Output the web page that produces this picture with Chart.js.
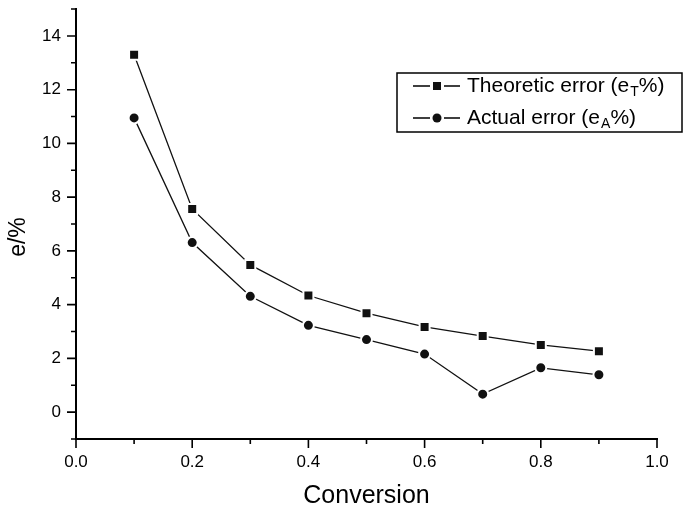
<!DOCTYPE html>
<html>
<head>
<meta charset="utf-8">
<script src="https://cdn.jsdelivr.net/npm/chart.js@4/dist/chart.umd.min.js"></script>
<style>
  html, body { margin: 0; padding: 0; background: #ffffff; }
  #wrap { width: 684px; height: 511px; }
</style>
</head>
<body>
<div id="wrap"><canvas id="c" width="684" height="511"></canvas></div>
<script>
// ---- data ----
const conversion = [0.1, 0.2, 0.3, 0.4, 0.5, 0.6, 0.7, 0.8, 0.9];
const theoreticError = [13.30, 7.56, 5.48, 4.34, 3.68, 3.17, 2.83, 2.50, 2.27];
const actualError = [10.95, 6.31, 4.31, 3.23, 2.70, 2.16, 0.67, 1.65, 1.39];
const xMajorTicks = [0.0, 0.2, 0.4, 0.6, 0.8, 1.0];
const xMinorTicks = [0.1, 0.3, 0.5, 0.7, 0.9];
const yMajorTicks = [0, 2, 4, 6, 8, 10, 12, 14];
const yMinorTicks = [-1, 1, 3, 5, 7, 9, 11, 13, 15];
const seriesNames = ['Theoretic error (eT%)', 'Actual error (eA%)'];
const legendMain = ['Theoretic error (e', 'Actual error (e'];
const legendSub = ['T', 'A'];
const legendEnd = '%)';
const xTitle = 'Conversion';
const yTitle = 'e/%';

const FONT = '"Liberation Sans", Arial, Helvetica, sans-serif';

const toXY = (ys) => conversion.map((x, i) => ({ x: x, y: ys[i] }));

const tickPlugin = {
  id: 'originTicks',
  afterDraw(chart) {
    const ctx = chart.ctx;
    const xs = chart.scales.x, ys = chart.scales.y;
    const ca = chart.chartArea;
    ctx.save();
    ctx.strokeStyle = '#000';
    ctx.lineWidth = 1.6;
    ctx.beginPath();
    xMajorTicks.forEach(v => { const p = xs.getPixelForValue(v); ctx.moveTo(p, ca.bottom); ctx.lineTo(p, ca.bottom + 9); });
    xMinorTicks.forEach(v => { const p = xs.getPixelForValue(v); ctx.moveTo(p, ca.bottom); ctx.lineTo(p, ca.bottom + 5); });
    yMajorTicks.forEach(v => { const p = ys.getPixelForValue(v); ctx.moveTo(ca.left, p); ctx.lineTo(ca.left - 9, p); });
    yMinorTicks.forEach(v => { const p = ys.getPixelForValue(v); ctx.moveTo(ca.left, p); ctx.lineTo(ca.left - 5, p); });
    ctx.stroke();

    // y title
    ctx.fillStyle = '#000';
    ctx.font = '23px ' + FONT;
    ctx.textAlign = 'center';
    ctx.textBaseline = 'middle';
    ctx.translate(19, 237);
    ctx.rotate(-Math.PI / 2);
    ctx.fillText(yTitle, 0, 0);
    ctx.restore();

    // legend
    ctx.save();
    ctx.strokeStyle = '#000';
    ctx.lineWidth = 1.5;
    ctx.strokeRect(397, 73, 285, 59);
    const rows = [86, 118];
    const styles = ['rect', 'circle'];
    rows.forEach((ry, i) => {
      ctx.strokeStyle = '#000';
      ctx.lineWidth = 1.3;
      ctx.beginPath();
      ctx.moveTo(413, ry); ctx.lineTo(430, ry);
      ctx.moveTo(444, ry); ctx.lineTo(460, ry);
      ctx.stroke();
      ctx.fillStyle = '#111';
      if (styles[i] === 'rect') {
        ctx.fillRect(433, ry - 4, 8, 8);
      } else {
        ctx.beginPath(); ctx.arc(437, ry, 4.5, 0, Math.PI * 2); ctx.fill();
      }
      ctx.fillStyle = '#000';
      ctx.textAlign = 'left';
      ctx.textBaseline = 'middle';
      ctx.font = '21px ' + FONT;
      let x = 467;
      ctx.fillText(legendMain[i], x, ry);
      x += ctx.measureText(legendMain[i]).width;
      ctx.font = '14px ' + FONT;
      ctx.fillText(legendSub[i], x + 1, ry + 6);
      x += ctx.measureText(legendSub[i]).width + 1;
      ctx.font = '21px ' + FONT;
      ctx.fillText(legendEnd, x, ry);
    });
    ctx.restore();
  }
};

new Chart(document.getElementById('c'), {
  type: 'line',
  data: {
    datasets: [
      {
        label: seriesNames[0],
        data: toXY(theoreticError),
        borderColor: '#111',
        borderWidth: 1.3,
        pointStyle: 'rect',
        pointRadius: 7.07,
        pointBackgroundColor: '#111',
        pointBorderColor: '#fff',
        pointBorderWidth: 2,
        tension: 0,
        fill: false
      },
      {
        label: seriesNames[1],
        data: toXY(actualError),
        borderColor: '#111',
        borderWidth: 1.3,
        pointStyle: 'circle',
        pointRadius: 5.5,
        pointBackgroundColor: '#111',
        pointBorderColor: '#fff',
        pointBorderWidth: 2,
        tension: 0,
        fill: false
      }
    ]
  },
  options: {
    responsive: false,
    animation: false,
    events: [],
    layout: { padding: { top: 7, right: 27, left: 0, bottom: 0 } },
    plugins: { legend: { display: false }, tooltip: { enabled: false } },
    scales: {
      x: {
        type: 'linear',
        min: 0, max: 1,
        afterBuildTicks: (s) => { s.ticks = xMajorTicks.map(v => ({ value: v })); },
        afterFit: (s) => { s.height = 72; s.paddingLeft = 0; s.paddingRight = 0; },
        ticks: {
          callback: (v) => Number(v).toFixed(1),
          font: { family: FONT, size: 17 },
          color: '#000',
          padding: 13,
          maxRotation: 0,
          autoSkip: false
        },
        grid: { display: false, drawTicks: false },
        border: { display: true, color: '#000', width: 2 },
        title: {
          display: true,
          text: xTitle,
          font: { family: FONT, size: 25 },
          color: '#000',
          padding: { top: 0, bottom: 0 }
        }
      },
      y: {
        type: 'linear',
        min: -1, max: 15,
        afterBuildTicks: (s) => { s.ticks = yMajorTicks.map(v => ({ value: v })); },
        afterFit: (s) => { s.width = 76; s.paddingTop = 0; s.paddingBottom = 0; },
        ticks: {
          callback: (v) => String(v),
          font: { family: FONT, size: 17 },
          color: '#000',
          padding: 15,
          autoSkip: false
        },
        grid: { display: false, drawTicks: false },
        border: { display: true, color: '#000', width: 2 },
        title: { display: false }
      }
    }
  },
  plugins: [tickPlugin]
});
</script>
</body>
</html>
